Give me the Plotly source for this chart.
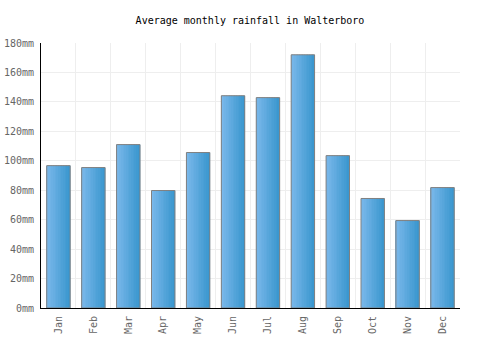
import plotly.graph_objects as go

months = ["Jan", "Feb", "Mar", "Apr", "May", "Jun", "Jul", "Aug", "Sep", "Oct", "Nov", "Dec"]
rainfall = [96.7, 95.4, 111.0, 79.8, 105.6, 144.2, 142.9, 172.0, 103.5, 74.4, 59.4, 81.8]
y_ticks = [0, 20, 40, 60, 80, 100, 120, 140, 160, 180]
y_labels = [f"{v}mm" for v in y_ticks]

FONT = "DejaVu Sans Mono"
bar_width = 0.67
n_slices = 14
c_left = (122, 184, 234)
c_right = (59, 151, 207)

fig = go.Figure()
sw = bar_width / n_slices
for i in range(n_slices):
    t = i / (n_slices - 1)
    col = tuple(round(a + (b - a) * t) for a, b in zip(c_left, c_right))
    fig.add_trace(go.Bar(
        x=months, y=rainfall,
        width=sw * 1.15,
        offset=-bar_width / 2 + i * sw,
        marker=dict(color="rgb(%d,%d,%d)" % col, line=dict(width=0)),
        hoverinfo="skip", showlegend=False,
    ))
fig.add_trace(go.Bar(
    x=months, y=rainfall, width=bar_width,
    marker=dict(color="rgba(0,0,0,0)", line=dict(color="#808080", width=1)),
    showlegend=False,
))

fig.update_layout(
    barmode="overlay",
    width=500, height=350,
    margin=dict(l=41, r=40, t=43, b=42),
    paper_bgcolor="white", plot_bgcolor="white",
    title=dict(text="Average monthly rainfall in Walterboro", x=0.5, xanchor="center",
               y=1 - 20 / 350, yanchor="middle",
               font=dict(family=FONT, size=10, color="black")),
    font=dict(family=FONT, size=10, color="#666666"),
    xaxis=dict(
        type="category", tickangle=-90, tickson="boundaries",
        showgrid=True, gridcolor="#eeeeee", gridwidth=1,
        showline=True, linecolor="black", linewidth=1,
        ticks="", ticklen=0, automargin=False, ticklabelstandoff=3,
        tickfont=dict(family=FONT, size=10, color="#666666"),
        range=[-0.5, 11.5],
    ),
    yaxis=dict(
        range=[0, 180], tickmode="array", tickvals=y_ticks, ticktext=y_labels,
        showgrid=True, gridcolor="#eeeeee", gridwidth=1,
        showline=True, linecolor="black", linewidth=1,
        zeroline=False, ticks="", automargin=False, ticklabelstandoff=4,
        tickfont=dict(family=FONT, size=10, color="#666666"),
    ),
)

fig.write_html("out.html")
